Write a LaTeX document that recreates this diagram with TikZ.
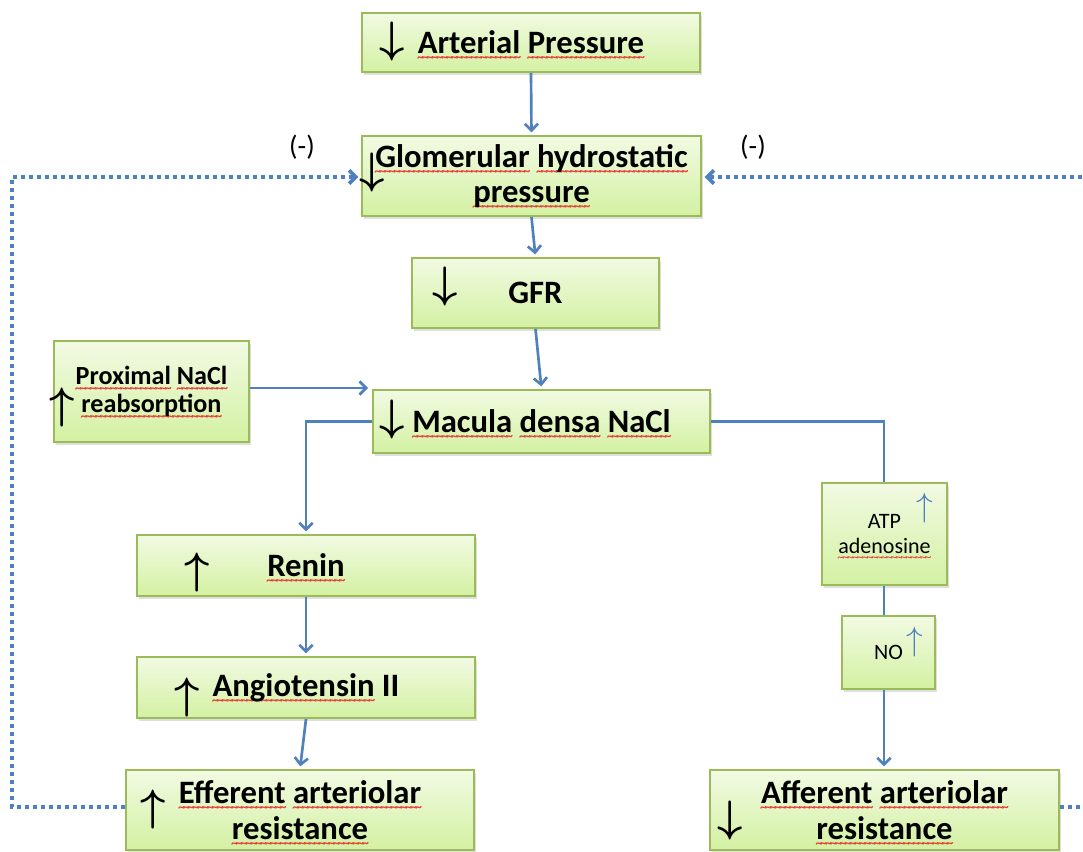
\documentclass[tikz,border=0pt]{standalone}
\usepackage{fontspec}
\setmainfont{Carlito}
\usepackage{amsmath}
\usetikzlibrary{arrows.meta,shadows}

\definecolor{boxtop}{HTML}{F2FAE3}
\definecolor{boxbot}{HTML}{D3F1A2}
\definecolor{boxedge}{HTML}{9BBB59}
\definecolor{linkc}{HTML}{4F81BD}
\definecolor{squig}{HTML}{E8403A}

% red wavy underline under a single word, built from repeated tildes
\newsavebox\sqbox
\newcommand\sqw[1]{\sbox\sqbox{#1}\leavevmode\rlap{\color{squig}\raisebox{-6pt}[0pt][0pt]{\hbox to\wd\sqbox{\fontsize{10}{10}\selectfont\xleaders\hbox{\kern-0.07em\char"7E\kern-0.07em}\hfil}}}\usebox\sqbox}

\newcommand\mainfnt{\fontsize{24.5}{26.5}\selectfont\bfseries}
\newcommand\midfnt{\fontsize{19.6}{20.5}\selectfont\bfseries}
\newcommand\smallfnt{\fontsize{16.5}{19}\selectfont}
\newcommand\signfnt{\fontsize{21}{21}\selectfont}

\tikzset{
  sz/.style 2 args={minimum width=#1*0.75pt, minimum height=#2*0.75pt},
  box/.style={draw=boxedge, line width=1.5pt, top color=boxtop, bottom color=boxbot,
    drop shadow={shadow xshift=1.5pt, shadow yshift=-2pt, opacity=0.25},
    inner sep=0pt, align=center, font=\mainfnt},
  sym/.style={inner sep=0pt, scale=3.3},
  bsym/.style={inner sep=0pt, scale=2.5, text=linkc},
  tip/.style={-{Straight Barb[length=5pt,width=10pt]}},
  link/.style={draw=linkc, line width=2pt},
  fb/.style={draw=linkc, line width=2.7pt, dash pattern=on 2.7pt off 3.3pt},
  sign/.style={inner sep=0pt, font=\signfnt}
}

\begin{document}
\begin{tikzpicture}[x=0.75pt,y=-0.75pt]

\useasboundingbox (0,0) rectangle (1083,852);
\fill[white] (0,0) rectangle (1083,852);
\clip (0,0) rectangle (1083,852);

% boxes
\node[box, sz={338}{59}] (art) at (531,42.5) {\sqw{Arterial} \sqw{Pressure}};
\node[box, sz={339}{80}] (glom) at (531.5,176) {\sqw{Glomerular} \sqw{hydrostatic}\\\sqw{pressure}};
\node[box, sz={247}{70}] (gfr) at (535.5,293) {GFR};
\node[box, sz={195}{101}, font=\midfnt] (prox) at (151.5,391.5) {\sqw{Proximal} \sqw{NaCl}\\\sqw{reabsorption}};
\node[box, sz={337}{63}] (mac) at (541.5,421.5) {\sqw{Macula} \sqw{densa} \sqw{NaCl}};
\node[box, sz={338}{61}] (renin) at (306,565.5) {\sqw{Renin}};
\node[box, sz={338}{61}] (angio) at (306,687.5) {\sqw{Angiotensin} II};
\node[box, sz={348}{80}] (eff) at (300,810) {\sqw{Efferent} \sqw{arteriolar}\\\sqw{resistance}};
\node[box, sz={125}{102}, font=\smallfnt] (atp) at (884.5,534) {ATP\\\sqw{adenosine}};
\node[box, sz={93}{73}, font=\smallfnt] (no) at (888.5,652.5) {NO};
\node[box, sz={349}{80}] (aff) at (884.5,810) {\sqw{Afferent} \sqw{arteriolar}\\\sqw{resistance}};

% up / down marks inside the boxes
\node[sym] (artm) at (392,42) {$\boldsymbol{\downarrow}$};
\node[sym] (glomm) at (372,173) {$\boldsymbol{\downarrow}$};
\node[sym] (gfrm) at (445,287) {$\boldsymbol{\downarrow}$};
\node[sym] (macm) at (392,420) {$\boldsymbol{\downarrow}$};
\node[sym] (proxm) at (62,408) {$\boldsymbol{\uparrow}$};
\node[sym] (reninm) at (197,573) {$\boldsymbol{\uparrow}$};
\node[sym] (angiom) at (187,697) {$\boldsymbol{\uparrow}$};
\node[sym] (effm) at (153,809) {$\boldsymbol{\uparrow}$};
\node[sym] (affm) at (730,820) {$\boldsymbol{\downarrow}$};
\node[bsym] (atpm) at (925,508) {$\uparrow$};
\node[bsym] (nom) at (915,642) {$\uparrow$};

% feedback signs
\node[sign] (fbl) at (302,147) {(-)};
\node[sign] (fbr) at (753,147) {(-)};

% main cascade
\draw[link,tip,shorten >=2pt] (art.south) -- (glom.north);
\draw[link,tip,shorten >=2pt] (glom.south) -- (gfr.north);
\draw[link,tip,shorten >=2pt] (gfr.south) -- (mac.north);
\draw[link,tip,shorten >=3pt] (prox.east |- 0,388) -- (mac.west |- 0,388);
\draw[link,tip,shorten >=2pt] (mac.west) -| (renin.north);
\draw[link,tip,shorten >=2pt] (renin.south) -- (angio.north);
\draw[link,tip,shorten >=2pt] (angio.south) -- (eff.north);

% macula densa branch to the afferent arteriole
\coordinate (rx) at (884,0);
\draw[link] (mac.east) -| (atp.north -| rx);
\draw[link] (atp.south -| rx) -- (no.north -| rx);
\draw[link,tip,shorten >=2pt] (no.south -| rx) -- (aff.north -| rx);

% feedback loops
\coordinate (lc) at (12,177);
\coordinate (rc) at (1100,177);
\draw[fb,tip,shorten >=2pt] (eff.west |- 0,807) -| (lc) -- (glom.west |- lc);
\draw[fb,tip,shorten >=2pt] (aff.east |- 0,807) -| (rc) -- (glom.east |- rc);
\end{tikzpicture}
\end{document}
